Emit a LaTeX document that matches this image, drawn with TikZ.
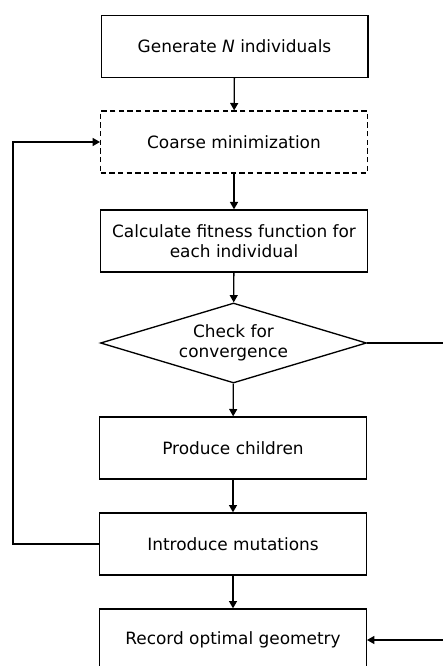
\documentclass[tikz,border=0pt]{standalone}
\usepackage{fontspec}
\setmainfont{DejaVu Sans}
\usetikzlibrary{shapes.geometric,arrows.meta}

\tikzset{
	stepbox/.style={draw,line width=1pt,minimum width=200pt,minimum height=46.5pt,align=center,inner sep=2pt,font=\fontsize{12.7}{15}\selectfont},
	flow/.style={line width=1pt,-{Triangle[length=5.5pt,width=6pt]}}
}

\begin{document}
\begin{tikzpicture}[x=0.75pt,y=-0.75pt]
		\useasboundingbox (0,0) rectangle (442,666);
		
		\node[stepbox] (gen) at (234.5,46.5) {Generate \textit{N} individuals};
		\node[stepbox,dash pattern=on 4pt off 2.5pt] (coarse) at (234,142) {Coarse minimization};
		\node[stepbox] (fit) at (234,241) {Calculate fitness function for\\each individual};
		\node[draw,line width=1pt,diamond,aspect=3.3,inner sep=0pt,minimum width=199.5pt,minimum height=60pt,align=center,font=\fontsize{12.7}{15}\selectfont] (check) at (233.5,343) {Check for\\convergence};
		\node[stepbox] (child) at (233,448) {Produce children};
		\node[stepbox] (mut) at (233,544) {Introduce mutations};
		\node[stepbox] (rec) at (233,640) {Record optimal geometry};
		
		\coordinate (lft) at (13,544);
		\coordinate (rgt) at (444,343);
		
		\draw[flow] (gen) -- (coarse);
		\draw[flow] (coarse) -- (fit);
		\draw[flow] (fit) -- (check);
		\draw[flow] (check) -- (child);
		\draw[flow] (child) -- (mut);
		\draw[flow] (mut) -- (rec);
		
		\draw[flow] (mut.west) -- (lft) |- (coarse.west);
		\draw[flow] (check.east) -- (rgt) |- (rec.east);
\end{tikzpicture}
\end{document}
